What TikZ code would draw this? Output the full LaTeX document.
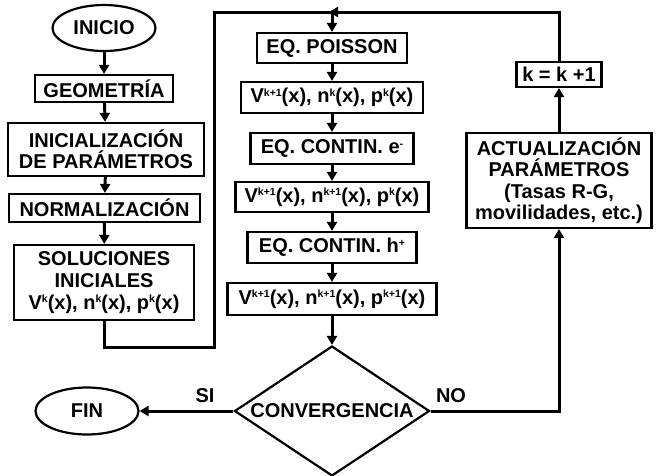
\documentclass[tikz,border=0pt]{standalone}
\usepackage{fontspec}
\setmainfont{Liberation Sans}
\usetikzlibrary{arrows.meta,shapes.geometric}
\newcommand{\spx}[1]{\raisebox{6.5pt}{\fontsize{10.5}{10.5}\selectfont #1}}
\tikzset{
  txt/.style={font=\fontsize{20}{21}\selectfont\bfseries, align=center, inner sep=0pt},
  boxnode/.style={txt, draw, line width=2.2pt, rectangle},
  termnode/.style={txt, draw, line width=2.2pt, ellipse},
  decnode/.style={txt, draw, line width=2.2pt, diamond, aspect=1.5},
  conn/.style={line width=3pt, line join=miter},
  arr/.style={conn, -{Triangle[length=9pt,width=10pt]}},
  lbl/.style={font=\fontsize{20}{21}\selectfont\bfseries, inner sep=0pt}
}
\begin{document}
\begin{tikzpicture}[x=1pt,y=-1pt]
\useasboundingbox (0,0) rectangle (657,475);
% left column
\node[termnode, minimum width=103pt, minimum height=46pt] (ini) at (104,28) {INICIO};
\node[boxnode, minimum width=138pt, minimum height=27pt] (geo) at (104,88.5) {GEOMETRÍA};
\node[boxnode, minimum width=196pt, minimum height=53pt] (par) at (106,149.5) {INICIALIZACIÓN\\DE PARÁMETROS};
\node[boxnode, minimum width=191pt, minimum height=28pt] (norm) at (104.5,208) {NORMALIZACIÓN};
\node[boxnode, minimum width=180pt, minimum height=75pt, font=\fontsize{20}{22}\selectfont\bfseries] (sol) at (104,282.5) {SOLUCIONES\\INICIALES\\V\spx{k}(x), n\spx{k}(x), p\spx{k}(x)};
\node[termnode, minimum width=103pt, minimum height=47pt] (fin) at (87,411) {FIN};
% middle column
\node[boxnode, minimum width=150pt, minimum height=30pt] (poi) at (332,48) {EQ. POISSON};
\node[boxnode, minimum width=182pt, minimum height=31pt] (v1) at (332,97.5) {V\spx{k+1}(x), n\spx{k}(x), p\spx{k}(x)};
\node[boxnode, minimum width=163pt, minimum height=31pt] (ce) at (332,148.5) {EQ. CONTIN. e\spx{-}};
\node[boxnode, minimum width=193pt, minimum height=30pt] (v2) at (332,197) {V\spx{k+1}(x), n\spx{k+1}(x), p\spx{k}(x)};
\node[boxnode, minimum width=169pt, minimum height=31pt] (ch) at (332,247.5) {EQ. CONTIN. h\spx{+}};
\node[boxnode, minimum width=209pt, minimum height=32pt] (v3) at (332,299) {V\spx{k+1}(x), n\spx{k+1}(x), p\spx{k+1}(x)};
\node[decnode, minimum width=195pt, minimum height=130pt] (conv) at (332,411) {CONVERGENCIA};
% right column
\node[boxnode, minimum width=185pt, minimum height=95pt, font=\fontsize{20}{21.5}\selectfont\bfseries] (act) at (559,180.5) {ACTUALIZACIÓN\\PARÁMETROS\\(Tasas R-G,\\movilidades, etc.)};
\node[boxnode, minimum width=85pt, minimum height=25pt] (kk) at (559,74.5) {k = k +1};
% helper coordinates
\coordinate (j) at (332,12);
\coordinate (lb) at (104,347);
\coordinate (lr) at (214,347);
\coordinate (lt) at (214,12);
\coordinate (nr) at (559,411);
% connectors
\draw[arr] (ini) -- (geo);
\draw[arr] (geo) -- (par);
\draw[arr] (par) -- (norm);
\draw[arr] (norm) -- (sol);
\draw[conn] (sol.south) -- (lb) -- (lr) -- (lt) -- (j);
\draw[arr, shorten >=-3pt] (kk.north) |- (j);
\draw[arr] (j) -- (poi.north);
\draw[arr] (poi) -- (v1);
\draw[arr] (v1) -- (ce);
\draw[arr] (ce) -- (v2);
\draw[arr] (v2) -- (ch);
\draw[arr] (ch) -- (v3);
\draw[arr] (v3) -- (conv.north);
\draw[arr] (conv.west) -- (fin.east);
\draw[arr] (conv.east) -- (nr) -- (act.south);
\draw[arr] (act) -- (kk);
% labels
\node[lbl] (si) at (205,396) {SI};
\node[lbl] (no) at (451,396) {NO};
\end{tikzpicture}
\end{document}
